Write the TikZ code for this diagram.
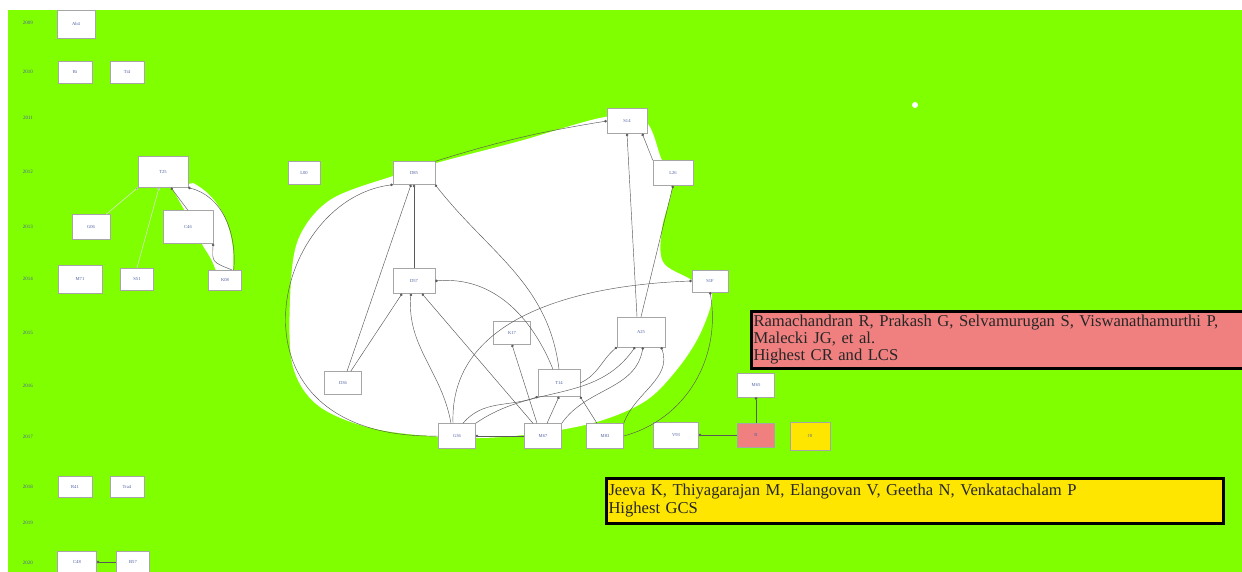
\documentclass[tikz,border=0pt]{standalone}
\usepackage{fontspec}
\setmainfont{Liberation Serif}
\usetikzlibrary{arrows.meta}
\definecolor{bggreen}{HTML}{7FFF00}
\definecolor{capred}{HTML}{F08080}
\definecolor{capyel}{HTML}{FFE600}
\definecolor{lbl}{HTML}{5060A0}
\begin{document}
\begin{tikzpicture}[x=1pt,y=-1pt,
  nb/.style 2 args={draw=gray!70, fill=white, line width=0.4pt, minimum width=#1pt, minimum height=#2pt, inner sep=0pt, font=\fontsize{4.6}{5}\selectfont, text=lbl},
  yr/.style={font=\fontsize{5}{5}\selectfont, text=lbl, inner sep=0pt},
  ed/.style={draw=black!65, line width=0.45pt, -{Circle[length=2.6pt]}},
  led/.style={draw=white!80!gray, line width=0.5pt, -{Circle[length=2.6pt,fill=black!70]}},
  capbox/.style={draw=black, line width=3pt, inner sep=2pt, align=left, anchor=west, text=black!85, font=\fontsize{16.6}{17.3}\selectfont}]
\useasboundingbox (0,0) rectangle (1242,572);
\fill[white] (0,0) rectangle (1242,572);
\fill[bggreen] (8,10) rectangle (1242,572);
% white blob behind the middle graph
\fill[white] plot[smooth cycle, tension=0.55] coordinates {
 (393,176) (440,162) (520,141) (605,117) (645,121) (661,158) (672,186)
 (662,228) (663,262) (690,279) (712,294) (701,332) (679,367) (647,400)
 (600,421) (540,433) (470,438) (380,430) (320,407) (293,367) (290,300)
 (298,240) (330,200)};
% white wedge in left cluster
\fill[white] (172,188) -- (193,183) .. controls (226,200) and (236,240) .. (233,271)
  -- (216,271) .. controls (212,260) .. (203,246) -- (190,220) -- cycle;
% year labels
\foreach \yy/\lab [count=\i] in {23/2009,72/2010,118/2011,172/2012,227/2013,279/2014,333/2015,386/2016,437/2017,487/2018,523/2019,563/2020}
  \node[yr] (yl\i) at (28,\yy) {\lab};
% left nodes
\node[nb={38}{28}] (a1) at (76,24) {Ab4};
\node[nb={34}{22}] (b1) at (75,72) {Bi};
\node[nb={34}{22}] (b2) at (127,72) {Ti4};
\node[nb={50}{31}] (c1) at (163,172) {T25};
\node[nb={38}{25}] (d1) at (91,227) {G06};
\node[nb={50}{33}] (d2) at (188,227) {C46};
\node[nb={44}{28}] (e1) at (80,279) {M71};
\node[nb={33}{22}] (e2) at (137,279) {S51};
\node[nb={33}{20}] (e3) at (225,280) {K08};
\node[nb={34}{21}] (f1) at (75,487) {R41};
\node[nb={34}{21}] (f2) at (127,487) {Tra4};
\node[nb={39}{22}] (g1) at (77,562) {C48};
\node[nb={33}{22}] (g2) at (133,562) {B57};
% middle nodes
\node[nb={32}{23}] (L00) at (304,173) {L00};
\node[nb={42}{23}] (m2xxx) at (414,173) {D85};
\node[nb={40}{25}] (S14) at (627,121) {S14};
\node[nb={40}{25}] (Lr) at (673,173) {L26};
\node[nb={42}{25}] (m2xx) at (414,281) {D57};
\node[nb={36}{22}] (F31) at (710,281) {S1F};
\node[nb={37}{23}] (n117) at (512,333) {K17};
\node[nb={48}{30}] (u25) at (641,332) {A25};
\node[nb={37}{23}] (D36) at (343,383) {D36};
\node[nb={42}{27}] (T14) at (559,383) {T14};
\node[nb={37}{25}] (nb0) at (457,436) {G36};
\node[nb={37}{25}] (n467) at (543,436) {M67};
\node[nb={37}{25}] (n483) at (605,436) {M83};
\node[nb={45}{26}] (n1393) at (676,435) {V93};
% right nodes
\node[nb={37}{24}] (r0) at (756,385) {M65};
\node[nb={37}{24}, fill=capred] (rN) at (756,435) {R};
\node[nb={40}{28}, fill=capyel] (yN) at (810,436) {J0};
\node[circle, fill=white, minimum size=6pt, inner sep=0pt] (wd) at (915,105) {};
% left cluster edges
\draw[led] (d1) -- (c1.south west);
\draw[led] (e2.north) -- ([xshift=-4pt]c1.south);
\draw[ed] (d2.north) -- ([xshift=8pt]c1.south);
\draw[ed] ([xshift=-8pt]e3.north east) .. controls (237,232) and (222,196) .. (c1.south east);
\draw[ed] ([xshift=-10pt]e3.north east) .. controls (212,262) .. (d2.south east);
\draw[ed] (g2) -- (g1);
% middle edges
\draw[ed] (nb0.west) .. controls (215,440) and (270,200) .. (m2xxx.south west);
\draw[ed] (m2xxx.north east) to[bend left=4] (S14.west);
\draw[ed] (D36) -- ([xshift=-3pt]m2xxx.south);
\draw[ed] (D36) -- ([xshift=-12pt]m2xx.south);
\draw[ed] (m2xx) -- (m2xxx);
\draw[ed] (T14.north) to[out=97,in=-52] (m2xxx.south east);
\draw[ed] ([xshift=-6pt]T14.north) to[out=112,in=5] (m2xx.east);
\draw[ed] ([xshift=-6pt]nb0.north) to[out=100,in=-95] ([xshift=-3pt]m2xx.south);
\draw[ed] ([xshift=-10pt]n467.north) -- ([xshift=8pt]m2xx.south);
\draw[ed] ([xshift=-6pt]n467.north) -- (n117.south);
\draw[ed] ([xshift=4pt]n467.north) -- (T14.south);
\draw[ed] (n467) -- (nb0);
\draw[ed] ([xshift=6pt]nb0.north) to[out=50,in=-160] (T14.south west);
\draw[ed] (nb0.north east) to[out=35,in=-125] ([xshift=-6pt]u25.south);
\draw[ed] (n467.north east) to[out=55,in=-100] ([xshift=2pt]u25.south);
\draw[ed] (n483.north east) to[out=70,in=-70] ([xshift=-4pt]u25.south east);
\draw[ed] ([xshift=-8pt]n483.north) -- (T14.south east);
\draw[ed] (T14.east) to[out=25,in=-140] (u25.south west);
\draw[ed] ([xshift=-4pt]u25.north) -- (S14.south);
\draw[ed] (u25.north) -- (Lr.south);
\draw[ed] (Lr.north west) -- ([xshift=-5pt]S14.south east);
\draw[ed] ([xshift=-4pt]nb0.north) to[out=92,in=182] (F31.west);
\draw[ed] (n483.east) to[out=15,in=-80] (F31.south);
% right edges
\draw[ed] (rN) -- (n1393);
\draw[ed] (rN) -- (r0);
% captions
\node[capbox, fill=capred, minimum width=495pt, minimum height=57pt, text width=491pt] (redcap) at (750,339.5)
 {Ramachandran R, Prakash G, Selvamurugan S, Viswanathamurthi P,\\ Malecki JG, et al.\\ Highest CR and LCS};
\node[capbox, fill=capyel, minimum width=617pt, minimum height=45pt, text width=613pt] (yelcap) at (605,500.5)
 {Jeeva K, Thiyagarajan M, Elangovan V, Geetha N, Venkatachalam P\\ Highest GCS};
\end{tikzpicture}
\end{document}
